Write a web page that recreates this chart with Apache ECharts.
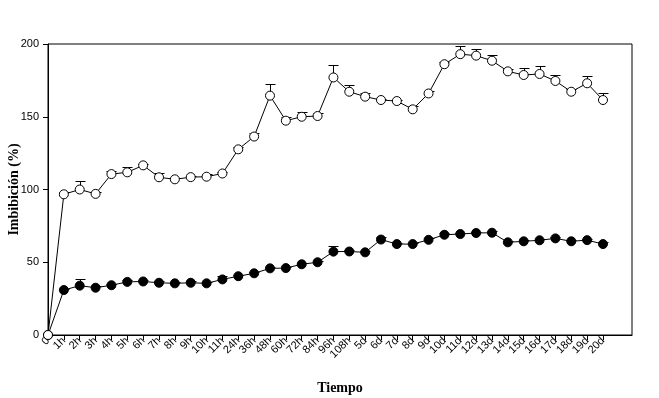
<!DOCTYPE html>
<html>
<head>
<meta charset="utf-8">
<script src="https://cdn.jsdelivr.net/npm/echarts@6/dist/echarts.min.js"></script>
<style>
  html, body { margin: 0; padding: 0; background: #fff; }
  #chart { width: 659px; height: 398px; }
</style>
</head>
<body>
<div id="chart"></div>
<script>
// categorias del eje x
const categories = ['0', '1h', '2h', '3h', '4h', '5h', '6h', '7h', '8h', '9h', '10h', '11h',
  '24h', '36h', '48h', '60h', '72h', '84h', '96h', '108h', '5d', '6d', '7d', '8d', '9d',
  '10d', '11d', '12d', '13d', '14d', '15d', '16d', '17d', '18d', '19d', '20d']

// serie de circulos abiertos
const openValues = [0, 96.7, 100, 97, 110.6, 111.8, 116.6, 108.4, 107, 108.5, 108.8, 111,
  127.6, 136.4, 164.5, 147.3, 150, 150.5, 177, 167.2, 163.8, 161.5, 160.8, 155.1, 166,
  186.1, 193, 192, 188.5, 181.2, 178.7, 179.4, 174.6, 167.2, 173, 161.5]
const openErrors = [0, 1.5, 5.7, 1.4, 2.3, 3.4, 1, 3.2, 1.2, 1, 2, 1,
  1.8, 2.3, 7.8, 2.3, 3, 2.3, 8.7, 4.4, 2.7, 0.5, 0.5, 2.3, 1.8,
  1.6, 5.7, 4.4, 3.7, 1.4, 4.6, 5.3, 3.9, 1.6, 5, 4.8]

// serie de circulos llenos
const filledValues = [0, 30.9, 33.9, 32.5, 34.2, 36.5, 36.8, 35.9, 35.5, 35.9, 35.5, 38.2,
  40.4, 42.4, 45.8, 46, 48.6, 50, 57.3, 57.4, 56.8, 65.6, 62.5, 62.5, 65.4,
  68.9, 69.4, 70.1, 70.3, 63.7, 64.4, 65.1, 66.4, 64.4, 65.2, 62.5]
const filledErrors = [0, 1, 4.4, 1, 1, 1, 1, 1, 1, 1, 1, 2.3,
  1, 1, 1, 1, 1, 1, 3.7, 1, 1, 1.8, 1, 1, 1,
  1, 1, 1, 1, 1, 1, 1, 1, 1, 1, 1.5]

const yTicks = [0, 50, 100, 150, 200]

const idx = categories.map((c, i) => i)
const toPoints = (vals) => vals.map((v, i) => [i, v])
const toErr = (vals, errs) => vals.map((v, i) => [i, v, errs[i]])

function errorBar(params, api) {
  const e = api.value(2)
  if (!e) return null
  const p0 = api.coord([api.value(0), api.value(1)])
  const p1 = api.coord([api.value(0), api.value(1) + e])
  const x = Math.round(p0[0]) + 0.5
  const yTop = Math.round(p1[1]) + 0.5
  return {
    type: 'group',
    children: [
      { type: 'line', shape: { x1: x, y1: p0[1], x2: x, y2: yTop }, style: { stroke: '#000', lineWidth: 1 } },
      { type: 'line', shape: { x1: x - 5, y1: yTop, x2: x + 5, y2: yTop }, style: { stroke: '#000', lineWidth: 1 } },
    ],
  }
}

const mychart = echarts.init(document.getElementById('chart'))
const option = {
  animation: false,
  backgroundColor: '#fff',
  grid: {
    left: 48,
    top: 44,
    right: 27,
    bottom: 63,
    containLabel: false,
    outerBoundsMode: 'none',
    show: true,
    borderColor: '#000',
    borderWidth: 1,
    backgroundColor: 'transparent',
  },
  xAxis: {
    type: 'value',
    min: 0,
    max: 36.83,
    name: 'Tiempo',
    nameLocation: 'middle',
    nameGap: 46,
    nameMoveOverlap: false,
    nameTextStyle: { fontFamily: 'Liberation Serif', fontWeight: 'bold', fontSize: 14, color: '#000' },
    axisLine: { show: true, lineStyle: { color: '#000', width: 1 } },
    axisTick: { show: true, length: 5, lineStyle: { color: '#000' }, customValues: idx },
    axisLabel: {
      customValues: idx,
      formatter: (v) => categories[v],
      rotate: 45,
      margin: 4,
      hideOverlap: false,
      color: '#000',
      fontFamily: 'Liberation Sans',
      fontSize: 11,
    },
    splitLine: { show: false },
  },
  yAxis: {
    type: 'value',
    min: 0,
    max: 200,
    interval: 50,
    name: 'Imbibición (%)',
    nameLocation: 'middle',
    nameGap: 27,
    nameMoveOverlap: false,
    nameTextStyle: { fontFamily: 'Liberation Serif', fontWeight: 'bold', fontSize: 14, color: '#000' },
    axisLine: { show: true, lineStyle: { color: '#000', width: 1 } },
    axisTick: { show: true, length: 5, lineStyle: { color: '#000' }, customValues: yTicks },
    axisLabel: { color: '#000', fontFamily: 'Liberation Sans', fontSize: 11, margin: 9 },
    splitLine: { show: false },
  },
  series: [
    {
      type: 'custom',
      renderItem: errorBar,
      data: toErr(filledValues, filledErrors),
      z: 1,
      silent: true,
    },
    {
      type: 'custom',
      renderItem: errorBar,
      data: toErr(openValues, openErrors),
      z: 1,
      silent: true,
    },
    {
      name: 'lleno',
      type: 'line',
      data: toPoints(filledValues),
      symbol: 'circle',
      symbolSize: 9,
      showAllSymbol: true,
      lineStyle: { color: '#000', width: 1 },
      itemStyle: { color: '#000', borderColor: '#000', borderWidth: 1 },
      z: 2,
    },
    {
      name: 'abierto',
      type: 'line',
      data: toPoints(openValues),
      symbol: 'circle',
      symbolSize: 9,
      showAllSymbol: true,
      lineStyle: { color: '#000', width: 1 },
      itemStyle: { color: '#fff', borderColor: '#000', borderWidth: 1 },
      z: 3,
    },
  ],
}
mychart.setOption(option)
</script>
</body>
</html>
